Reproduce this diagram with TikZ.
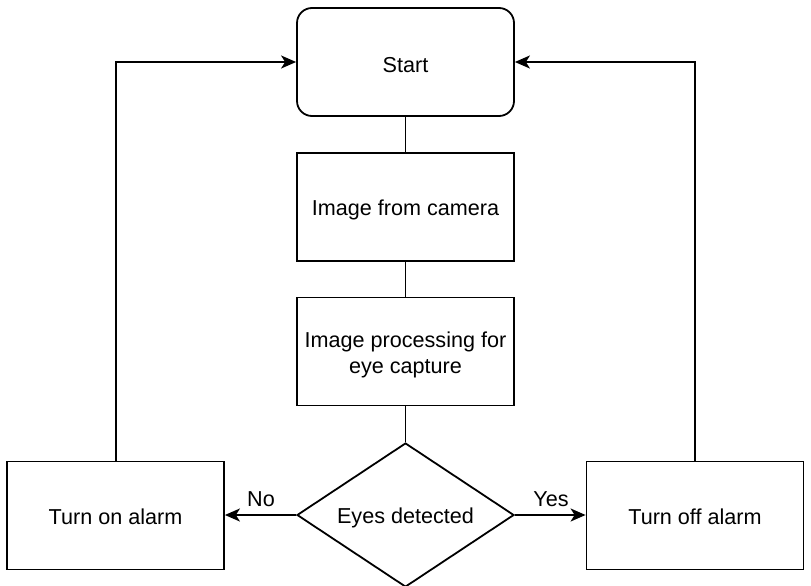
\documentclass[tikz,border=0pt]{standalone}
\usepackage{fontspec}
\setmainfont{Liberation Sans}
\usetikzlibrary{shapes.geometric,arrows.meta}
\begin{document}
\begin{tikzpicture}[x=1pt,y=-1pt,
  every node/.style={font=\fontsize{21.6}{26}\selectfont},
  txt/.style={label={[inner sep=0pt,align=center,yshift=-3pt]center:{#1}}},
  stxt/.style={label={[inner sep=0pt,align=center,yshift=-1pt]center:{#1}}},
  box/.style={draw,line width=1.8pt,minimum width=217pt,minimum height=108pt,inner sep=0pt},
  rbox/.style={box,rounded corners=15pt},
  dia/.style={draw,line width=1.8pt,diamond,aspect=1.5,minimum width=217pt,minimum height=144pt,inner sep=0pt},
  line/.style={line width=1.8pt},
  arr/.style={line width=1.8pt,-{Stealth[length=15pt,width=13pt,inset=4pt]}},
  lbl/.style={inner sep=0pt}]
\useasboundingbox (0,0) rectangle (811,586);
\node[rbox,txt={Start}] (start) at (405.5,62) {};
\node[box,txt={Image from camera}] (cam) at (405.5,207) {};
\node[box,txt={Image processing for\\eye capture}] (proc) at (405.5,351.5) {};
\node[dia,txt={Eyes detected}] (eyes) at (405.5,515) {};
\node[box,stxt={Turn on alarm}] (on) at (115.5,515.5) {};
\node[box,stxt={Turn off alarm}] (off) at (695,515.5) {};
\draw[line] (start) -- (cam);
\draw[line] (cam) -- (proc);
\draw[line] (proc) -- (eyes);
\draw[arr] (eyes.west) -- (on.east |- eyes.west);
\draw[arr] (eyes.east) -- (off.west |- eyes.east);
\node[lbl] (no) at (261,499) {No};
\node[lbl] (yes) at (551,499) {Yes};
\draw[arr] (on.north -| 116,0) |- (start.west);
\draw[arr] (off.north) |- (start.east);
\end{tikzpicture}
\end{document}
